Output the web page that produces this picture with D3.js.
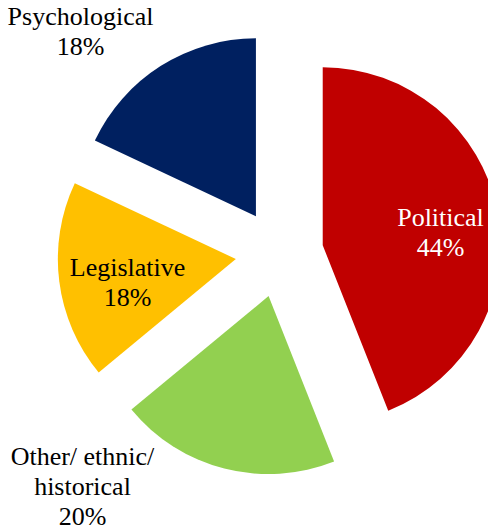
<!DOCTYPE html>
<html>
<head>
<meta charset="utf-8">
<script src="https://cdn.jsdelivr.net/npm/d3@7"></script>
<style>
  html, body { margin: 0; padding: 0; background: #ffffff; }
  svg { display: block; }
  text.label { font-family: "Liberation Serif", "Times New Roman", Times, "DejaVu Serif", serif; }
</style>
</head>
<body>
<div id="chart"></div>
<script>
// Share of factors, clockwise from 12 o'clock
const categories = ["Political", "Other/ ethnic/ historical", "Legislative", "Psychological"];
const shares = [44, 20, 18, 18];
const labelLines = [
  ["Political", "44%"],
  ["Other/ ethnic/", "historical", "20%"],
  ["Legislative", "18%"],
  ["Psychological", "18%"]
];
const colors = ["#C00000", "#92D050", "#FFC000", "#002060"];
const textColors = ["#ffffff", "#000000", "#000000", "#000000"];

const width = 488, height = 529;
const cx = 279.5, cy = 253.5;
const radius = 178;
const explode = 44;

// Label anchors (baseline of first line) relative to the pie center
const labelAnchors = [
  [161, -28],
  [-197, 211],
  [-152, 22],
  [-199, -229]
];
const lineHeight = 30;

const svg = d3.select("#chart").append("svg")
  .attr("width", width)
  .attr("height", height);

const pie = d3.pie().sort(null).value(d => d)
  .startAngle(0).endAngle(2 * Math.PI);
const arcs = pie(shares);

const arc = d3.arc().innerRadius(0).outerRadius(radius);

const g = svg.append("g").attr("transform", `translate(${cx},${cy})`);

g.selectAll("path.slice")
  .data(arcs)
  .join("path")
  .attr("class", "slice")
  .attr("fill", (d, i) => colors[i])
  .attr("d", arc)
  .attr("transform", d => {
    const mid = (d.startAngle + d.endAngle) / 2;
    return `translate(${Math.sin(mid) * explode},${-Math.cos(mid) * explode})`;
  });

const labels = g.selectAll("text.label")
  .data(arcs)
  .join("text")
  .attr("class", "label")
  .attr("text-anchor", "middle")
  .attr("font-size", 26)
  .attr("fill", (d, i) => textColors[i])
  .attr("transform", (d, i) => `translate(${labelAnchors[i][0]},${labelAnchors[i][1]})`);

labels.selectAll("tspan")
  .data((d, i) => labelLines[i])
  .join("tspan")
  .attr("x", 0)
  .attr("y", (t, j) => j * lineHeight)
  .text(t => t);
</script>
</body>
</html>
